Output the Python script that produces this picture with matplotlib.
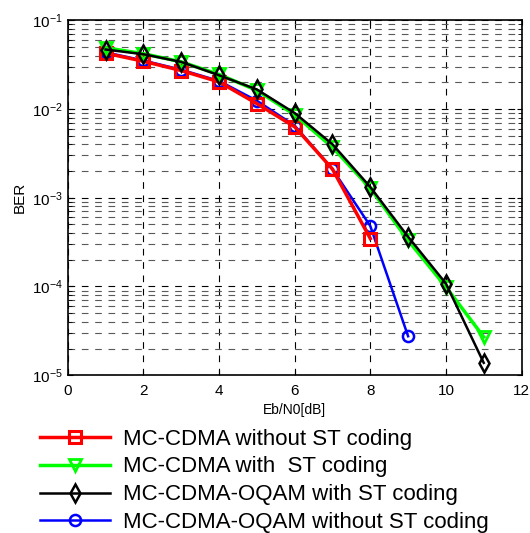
import matplotlib
import matplotlib.pyplot as plt
import numpy as np
from matplotlib.ticker import LogLocator, FixedLocator

matplotlib.rc("font", family=["Liberation Sans", "DejaVu Sans"], size=10)

snr = [1, 2, 3, 4, 5, 6, 7, 8, 9, 10, 11]

ber_red = [0.0425, 0.0345, 0.0271, 0.0202, 0.0115, 0.0063, 0.0021, 3.47e-4]
ber_green = [0.049, 0.042, 0.034, 0.0245, 0.0162, 0.0086, 0.0037, 0.00128, 3.3e-4, 9.9e-5, 2.7e-5]
ber_black = [0.0468, 0.0414, 0.0339, 0.024, 0.0166, 0.009, 0.0040, 0.00132, 3.63e-4, 1.08e-4, 1.38e-5]
ber_blue = [0.0435, 0.0352, 0.0277, 0.0207, 0.0124, 0.0065, 0.0021, 4.8e-4, 2.75e-5]

labels = [
    "MC-CDMA without ST coding",
    "MC-CDMA with  ST coding",
    "MC-CDMA-OQAM with ST coding",
    "MC-CDMA-OQAM without ST coding",
]

fig = plt.figure(figsize=(5.30, 5.33), dpi=100)
ax = fig.add_axes([0.128, 0.296, 0.856, 0.666])

h_blue, = ax.semilogy(snr[:len(ber_blue)], ber_blue, color="blue", lw=1.8, marker="o",
                      ms=8, mfc="none", mew=1.8)
h_red, = ax.semilogy(snr[:len(ber_red)], ber_red, color="red", lw=2.5, marker="s",
                     ms=9, mfc="none", mew=2.2)
h_green, = ax.semilogy(snr[:len(ber_green)], ber_green, color="#00ff00", lw=2.5, marker="v",
                       ms=9, mfc="none", mew=2.0)
h_black, = ax.semilogy(snr[:len(ber_black)], ber_black, color="black", lw=1.8, marker="d",
                       ms=9, mfc="none", mew=1.8)

ax.set_xlim(0, 12)
ax.set_ylim(1e-5, 1e-1)
ax.xaxis.set_major_locator(FixedLocator([0, 2, 4, 6, 8, 10, 12]))
ax.yaxis.set_major_locator(LogLocator(base=10, numticks=10))
ax.yaxis.set_minor_locator(LogLocator(base=10, subs=np.arange(2, 10), numticks=20))
ax.grid(True, which="major", axis="both", color="black", ls=(0, (6, 6)), lw=0.8)
ax.grid(True, which="minor", axis="y", color="0.35", ls=(0, (6, 6)), lw=0.8)
ax.tick_params(which="both", direction="in", top=True, right=True, labelsize=11)
ax.tick_params(axis="x", pad=6)
ax.tick_params(which="minor", length=3)
for s in ax.spines.values():
    s.set_linewidth(1.2)

ax.set_xlabel("Eb/N0[dB]", fontsize=10, labelpad=4)
ax.set_ylabel("BER", fontsize=11, labelpad=4)

fig.legend([h_red, h_green, h_black, h_blue], labels, loc="upper left",
           bbox_to_anchor=(0.075, 0.196), frameon=False, fontsize=16,
           handlelength=3.15, handletextpad=0.6, labelspacing=0.31,
           borderaxespad=0, borderpad=0)

fig.savefig("out.png", dpi=100)
